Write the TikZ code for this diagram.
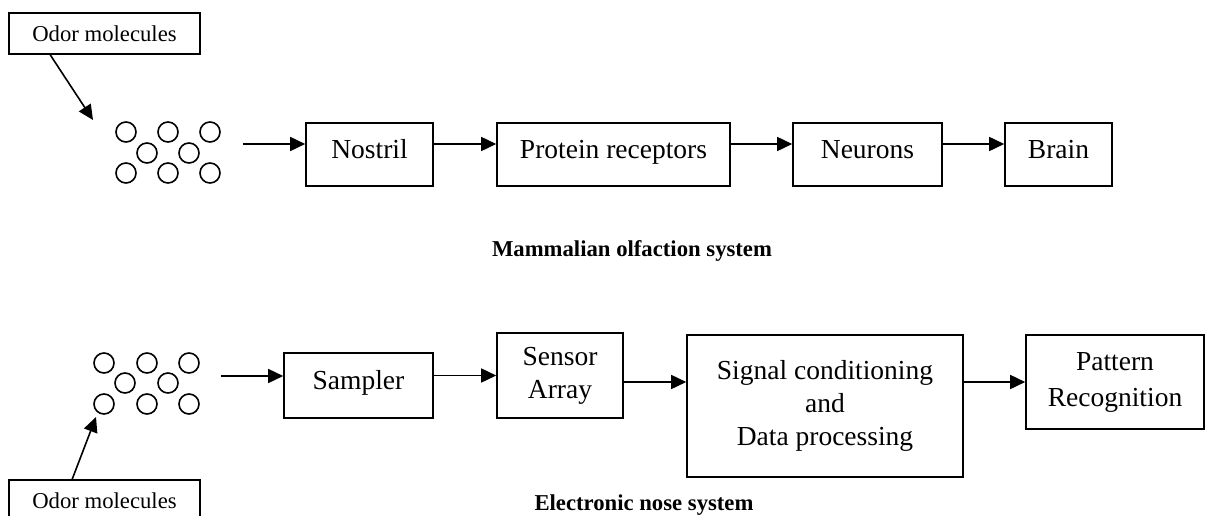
\documentclass[tikz,border=0pt]{standalone}
\usepackage{fontspec}
\setmainfont{Liberation Serif}
\usetikzlibrary{arrows.meta}

\begin{document}
\begin{tikzpicture}[x=1pt,y=-1pt,line width=1.6pt]
\tikzstyle{every node}+=[inner sep=0pt]
\tikzstyle{block}=[draw,font=\fontsize{27.5}{33}\selectfont,align=center]
\tikzstyle{oneline}=[text height=19pt,text depth=12pt]
\tikzstyle{odorbox}=[draw,minimum width=191pt,minimum height=41pt,font=\fontsize{22.7}{27}\selectfont]
\tikzstyle{caption}=[font=\fontsize{22.7}{27}\selectfont\bfseries]
\tikzstyle{arr}=[-{Triangle[length=15pt,width=14pt]}]
\useasboundingbox (0,0) rectangle (1206,516);
\node [odorbox] (odor1) at (104.5,33.5) {Odor molecules};
\coordinate (tip1) at (93,120);
\draw [arr] ([xshift=42pt]odor1.south west) -- (tip1);
\foreach \cx/\cy in {126/132,168/132,210/132,147/153,189/153,126/173,168/173,210/173}
  \draw (\cx,\cy) circle (10pt);
\node [minimum width=148pt,minimum height=60pt] (mol1) at (168,144) {};
\node [block,oneline,minimum width=127pt,minimum height=63pt] (nostril) at (369.5,154.5) {Nostril};
\node [block,oneline,minimum width=233pt,minimum height=63pt] (protein) at (613.5,154.5) {Protein receptors};
\node [block,oneline,minimum width=149pt,minimum height=63pt] (neurons) at (867.5,154.5) {Neurons};
\node [block,oneline,minimum width=107pt,minimum height=63pt] (brain) at (1058.5,154.5) {Brain};
\draw [arr] (mol1.east) -- (mol1.east -| nostril.west);
\draw [arr] (nostril.east |- mol1) -- (protein.west |- mol1);
\draw [arr] (protein.east |- mol1) -- (neurons.west |- mol1);
\draw [arr] (neurons.east |- mol1) -- (brain.west |- mol1);
\node [caption] (title1) at (632,251) {Mammalian olfaction system};
\foreach \cx/\cy in {104/363,147/363,189/363,125/383,168/383,104/404,147/404,189/404}
  \draw (\cx,\cy) circle (10pt);
\node [minimum width=146pt,minimum height=60pt] (mol2) at (147,376) {};
\node [block,oneline,minimum width=149pt,minimum height=65pt] (sampler) at (358.5,385.5) {Sampler};
\node [block,minimum width=126pt,minimum height=85pt] (sensor) at (560,375.5) {Sensor\\Array};
\node [block,minimum width=276pt,minimum height=142pt] (signal) at (825,406) {Signal conditioning\\and\\Data processing};
\node [block,minimum width=178pt,minimum height=94pt,font=\fontsize{27.5}{36}\selectfont] (pattern) at (1115,382) {Pattern\\Recognition};
\draw [arr] (mol2.east) -- (mol2.east -| sampler.west);
\draw [arr] (sampler.east |- sensor) -- (sensor.west);
\draw [arr] (sensor.east |- pattern) -- (signal.west |- pattern);
\draw [arr] (signal.east |- pattern) -- (pattern.west);
\node [odorbox] (odor2) at (104.5,500.5) {Odor molecules};
\coordinate (tip2) at (96,417);
\draw [arr] ([xshift=64pt]odor2.north west) -- (tip2);
\node [caption] (title2) at (644,505) {Electronic nose system};
\end{tikzpicture}
\end{document}
